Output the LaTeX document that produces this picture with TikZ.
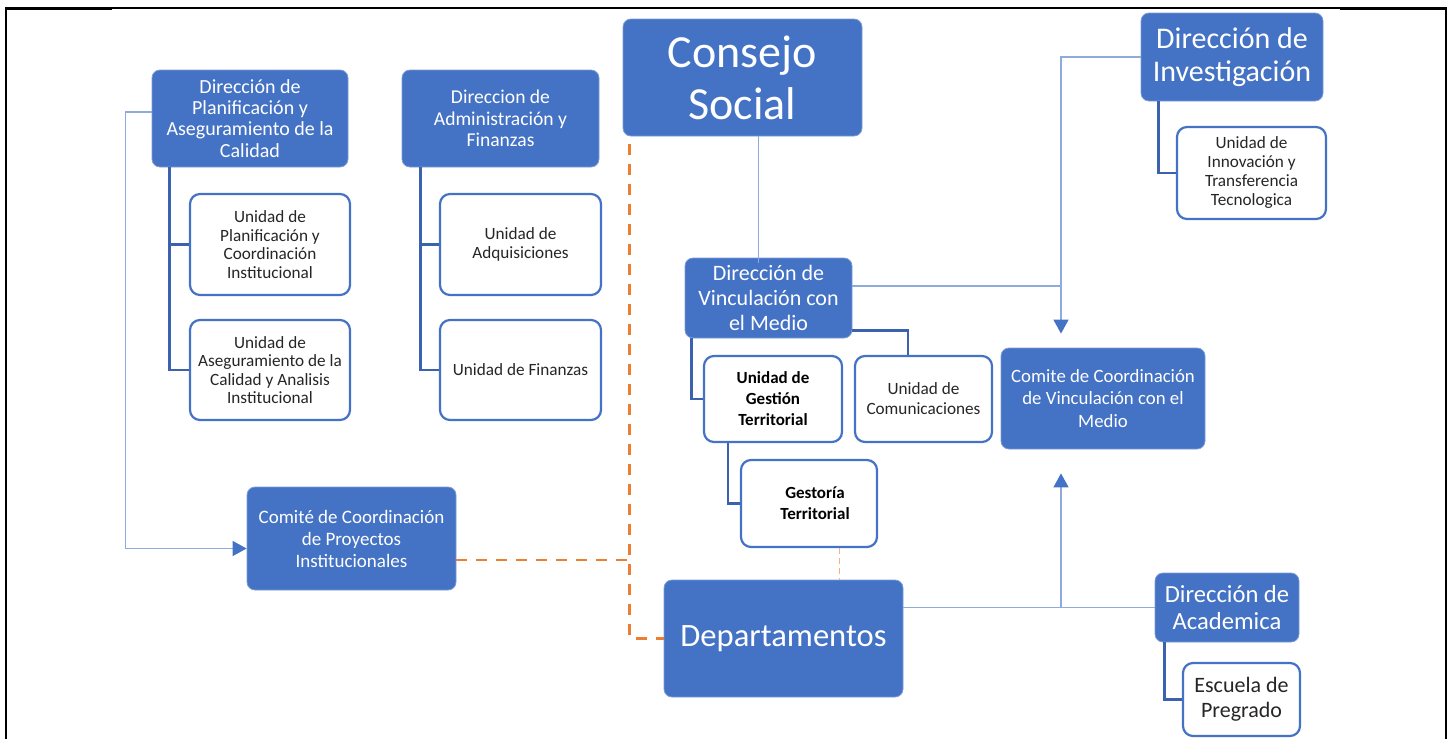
\documentclass[tikz,border=0pt]{standalone}
\usepackage{fontspec}
\setmainfont{Carlito}
\usetikzlibrary{arrows.meta}

\definecolor{boxblue}{HTML}{4472C4}
\definecolor{linkblue}{HTML}{8FAADC}
\definecolor{treeblue}{HTML}{3A62AE}
\definecolor{relorange}{HTML}{ED7D31}
\definecolor{textgray}{HTML}{262626}

\tikzset{
  dirbox/.style={fill=boxblue, draw=boxblue!70!white, line width=0.4pt,
    text=white, rounded corners=4pt, align=center, inner sep=0pt},
  unitbox/.style={fill=white, draw=boxblue, line width=1.1pt,
    text=textgray, rounded corners=5pt, align=center, inner sep=0pt},
  link/.style={draw=linkblue, line width=0.75pt},
  tree/.style={draw=treeblue, line width=1.3pt},
  relation/.style={draw=relorange, line width=1.4pt, dash pattern=on 5.5pt off 4.5pt},
  faintrel/.style={draw=relorange!60!white, line width=0.5pt, dash pattern=on 3pt off 2pt},
  tip/.style={-{Triangle[length=7pt,width=7.5pt,color=boxblue]}},
}

\begin{document}
\begin{tikzpicture}[x=0.5pt,y=-0.5pt]
  \useasboundingbox (0,0) rectangle (1452,739);

  % frame of the page
  \draw[line width=1pt] (6,739) -- (6,8) -- (1446,8) -- (1446,739);
  \draw[line width=1.5pt] (6,8) -- (112,8) (1340,8) -- (1446,8);

  % direcciones
  \node[dirbox, minimum width=98pt, minimum height=48.5pt,
    font=\fontsize{10}{10.6}\selectfont] (plan) at (250,118.5)
    {Dirección de\\Planificación y\\Aseguramiento de la\\Calidad};
  \node[dirbox, minimum width=98.5pt, minimum height=48.5pt,
    font=\fontsize{9.8}{10.8}\selectfont] (adm) at (500.5,118.5)
    {Direccion de\\Administración y\\Finanzas};
  \node[dirbox, minimum width=119.5pt, minimum height=58.5pt,
    font=\fontsize{23}{26}\selectfont] (consejo) at (742.5,77.5)
    {Consejo\\Social};
  \node[dirbox, minimum width=91pt, minimum height=44pt,
    font=\fontsize{15}{16.3}\selectfont] (inv) at (1232,57)
    {Dirección de\\Investigación};
  \node[dirbox, minimum width=83.5pt, minimum height=40pt,
    font=\fontsize{11}{12.3}\selectfont] (vinc) at (768.5,298)
    {Dirección de\\Vinculación con\\el Medio};
  \node[dirbox, minimum width=102pt, minimum height=50.5pt,
    font=\fontsize{9.4}{11.2}\selectfont] (comvinc) at (1103,398.5)
    {Comite de Coordinación\\de Vinculación con el\\Medio};
  \node[dirbox, minimum width=104.5pt, minimum height=51.5pt,
    font=\fontsize{9.5}{11}\selectfont] (comproy) at (351.5,538.5)
    {Comité de Coordinación\\de Proyectos\\Institucionales};
  \node[dirbox, minimum width=119.5pt, minimum height=58.5pt,
    font=\fontsize{16.3}{18}\selectfont] (dep) at (783.5,638.5)
    {Departamentos};
  \node[dirbox, minimum width=72pt, minimum height=34.5pt,
    font=\fontsize{12.3}{13.5}\selectfont] (acad) at (1227,607.5)
    {Dirección de\\Academica};

  % unidades
  \node[unitbox, minimum width=80pt, minimum height=50.5pt,
    font=\fontsize{8.6}{9.3}\selectfont] (uplan) at (270,244.5)
    {Unidad de\\Planificación y\\Coordinación\\Institucional};
  \node[unitbox, minimum width=80pt, minimum height=50pt,
    font=\fontsize{8.6}{9.3}\selectfont] (uaseg) at (270,370)
    {Unidad de\\Aseguramiento de la\\Calidad y Analisis\\Institucional};
  \node[unitbox, minimum width=80.5pt, minimum height=50.5pt,
    font=\fontsize{8.6}{9.5}\selectfont] (uadq) at (520.5,244.5)
    {Unidad de\\Adquisiciones};
  \node[unitbox, minimum width=80.5pt, minimum height=50pt,
    font=\fontsize{8.6}{9.5}\selectfont] (ufin) at (520.5,370)
    {Unidad de Finanzas};
  \node[unitbox, minimum width=74.5pt, minimum height=46pt,
    font=\fontsize{8.6}{9.5}\selectfont] (uinn) at (1251.5,173)
    {Unidad de\\Innovación y\\Transferencia\\Tecnologica};
  \node[unitbox, minimum width=69pt, minimum height=43pt, text=black,
    font=\fontsize{8.5}{10.5}\bfseries\selectfont] (ugest) at (773,399)
    {Unidad de\\Gestión\\Territorial};
  \node[unitbox, minimum width=68.5pt, minimum height=43pt,
    font=\fontsize{8.6}{10}\selectfont] (ucom) at (923.5,399)
    {Unidad de\\Comunicaciones};
  \node[unitbox, minimum width=68pt, minimum height=43.5pt, text=black,
    font=\fontsize{8.5}{10.5}\bfseries\selectfont] (gest) at (809,503.5)
    {\hspace*{6pt}Gestoría\\\hspace*{6pt}Territorial};
  \node[unitbox, minimum width=58.5pt, minimum height=36.5pt,
    font=\fontsize{11}{12.5}\selectfont] (esc) at (1241.5,699.5)
    {Escuela de\\Pregrado};

  % ramas de cada direccion
  \draw[tree] ([xshift=9pt]plan.south west) |- (uplan.west);
  \draw[tree] ([xshift=9pt]plan.south west) |- (uaseg.west);
  \draw[tree] ([xshift=9.5pt]adm.south west) |- (uadq.west);
  \draw[tree] ([xshift=9.5pt]adm.south west) |- (ufin.west);
  \draw[tree] ([xshift=9pt]inv.south west) |- (uinn.west);
  \draw[tree] ([xshift=3.5pt]vinc.south west) |- (ugest.west);
  \draw[tree] ([yshift=4pt]vinc.south east) -| ([xshift=-7.75pt]ucom.north);
  \draw[tree] ([xshift=12.5pt]ugest.south west) |- (gest.west);
  \draw[tree] ([xshift=5pt]acad.south west) |- (esc.west);

  % enlaces
  \coordinate (vjoin) at ([xshift=-21pt]comvinc.north);
  \draw[link] ([xshift=-5pt,yshift=-2.5pt]vinc.north)
    -- ([xshift=-5pt]vinc.north |- consejo.south);
  \draw[link, tip] ([yshift=3.25pt]plan.west) -- ++(-26,0)
    |- ([yshift=-5pt]comproy.west);
  \draw[link, tip] (inv.west) -| ([xshift=-21pt,yshift=7pt]comvinc.north);
  \path ([yshift=6pt]vinc.east) coordinate (va);
  \draw[link] (va) -- (va -| vjoin);
  \draw[link] (dep.east |- acad.west) -- (acad.west);
  \draw[link, tip] (vjoin |- acad.west) -- ([xshift=-21pt,yshift=-12pt]comvinc.south);

  % relaciones
  \coordinate (oc) at ([xshift=3.5pt,yshift=-4pt]consejo.south west);
  \draw[relation] (oc) |- (dep.west);
  \path ([yshift=-10.75pt]comproy.east) coordinate (cp);
  \draw[relation] (cp) -- (cp -| oc);
  \path ([xshift=-19.5pt]gest.south east) coordinate (gs);
  \draw[faintrel] (gs) -- (gs |- dep.north);

\end{tikzpicture}
\end{document}
